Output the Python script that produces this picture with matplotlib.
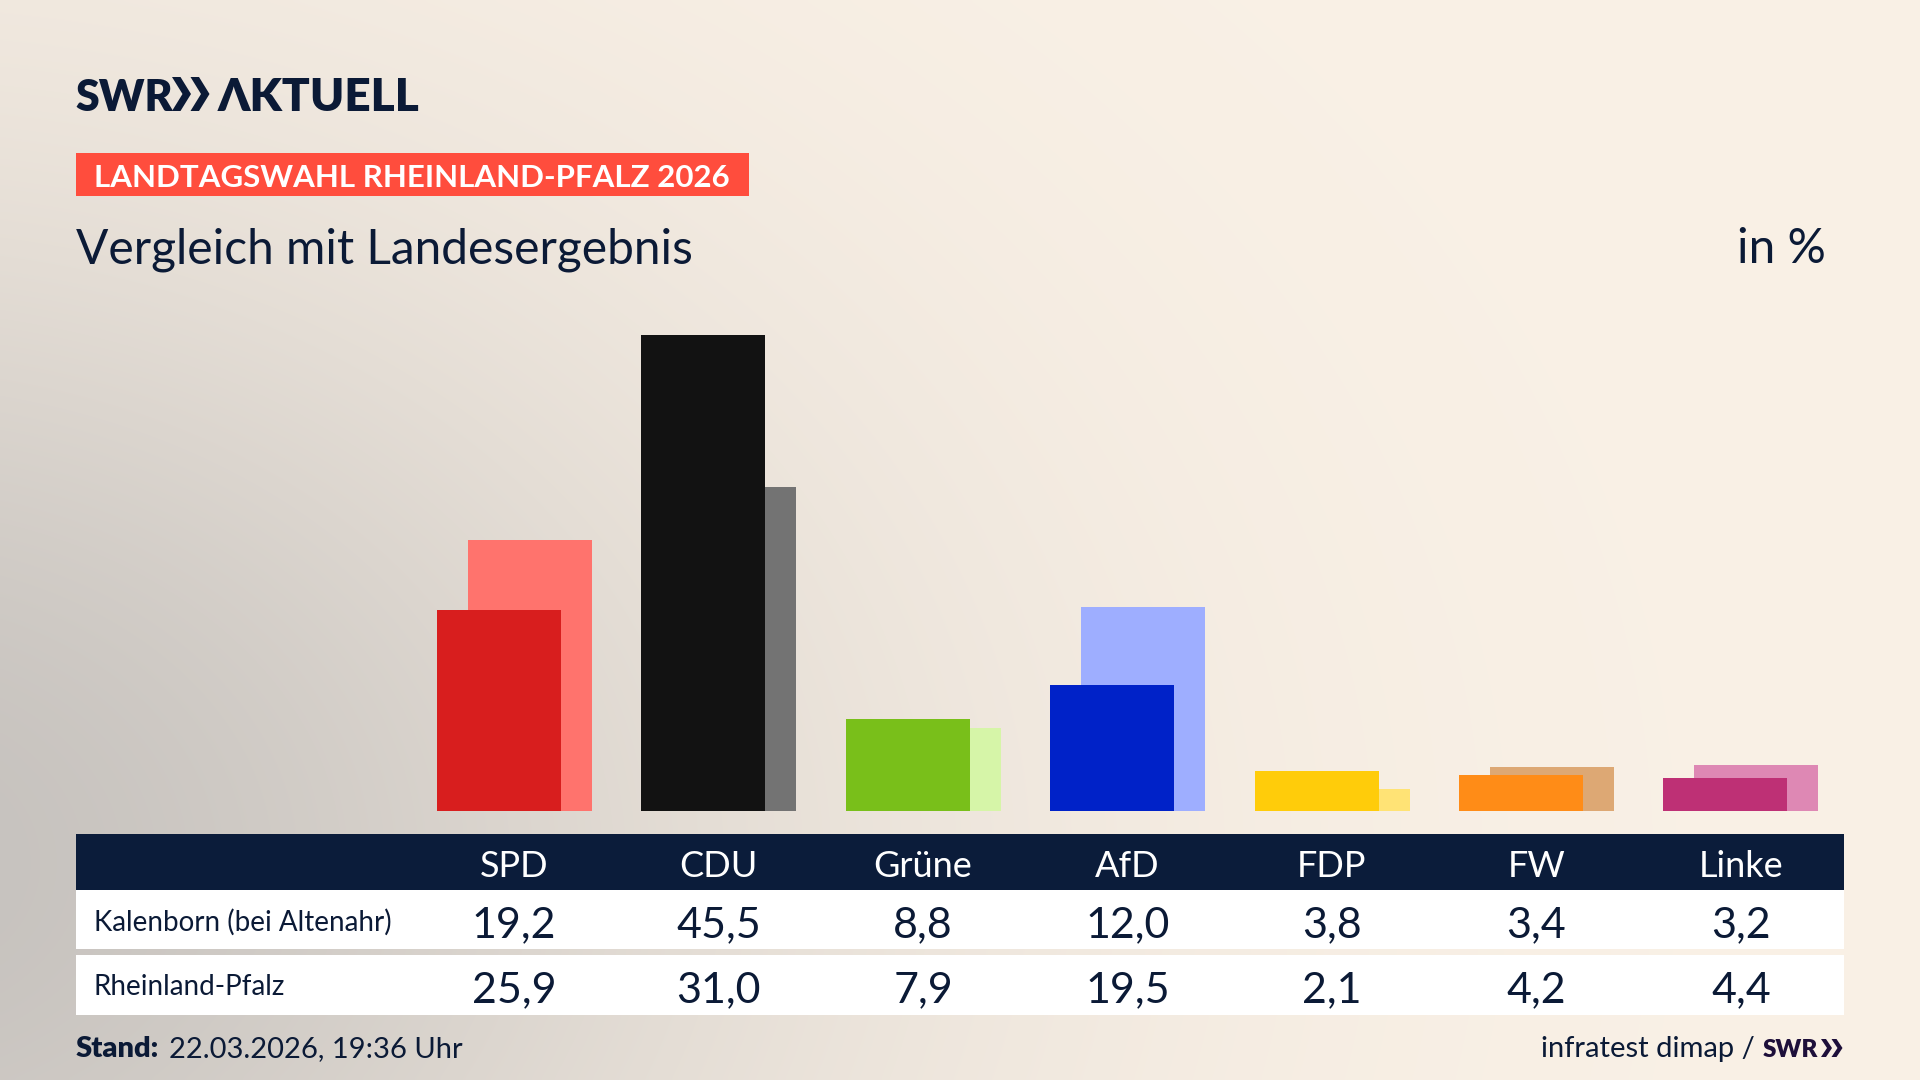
import numpy as np
import matplotlib
matplotlib.use('Agg')
import matplotlib.pyplot as plt
from matplotlib.patches import Rectangle, Polygon

plt.rcParams['font.family'] = ['Lato', 'DejaVu Sans']

parties = ['SPD', 'CDU', 'Grüne', 'AfD', 'FDP', 'FW', 'Linke']
kalenborn = [19.2, 45.5, 8.8, 12.0, 3.8, 3.4, 3.2]
landes = [25.9, 31.0, 7.9, 19.5, 2.1, 4.2, 4.4]
colors_front = ['#D81E1E', '#121212', '#79BF1A', '#0022C8', '#FFCC0A', '#FF8C17', '#BE3075']
colors_back = ['#FF736D', '#737373', '#D6F5A8', '#9EAEFF', '#FFE375', '#DDA874', '#DE88B4']
row_labels = ['Kalenborn (bei Altenahr)', 'Rheinland-Pfalz']

W, H = 1920, 1080
navy = '#0B1C3A'
txt = '#0B1A36'

def fx(x):
    return x / W

def fy(y):
    return 1 - y / H

fig = plt.figure(figsize=(19.2, 10.8), dpi=100)

# background in pixel coords (y down), grey spot on the left
bg = fig.add_axes([0, 0, 1, 1])
xx, yy = np.meshgrid(np.linspace(0, 1, 480), np.linspace(0, 1, 270))
d = np.exp(-(((xx + 0.08) / 0.48) ** 2 + ((yy - 0.80) / 0.62) ** 2))
cream = np.array([250, 241, 230]) / 255
grey = np.array([198, 194, 190]) / 255
img = cream[None, None, :] * (1 - d[..., None]) + grey[None, None, :] * d[..., None]
bg.imshow(img, extent=[0, W, H, 0], aspect='auto', interpolation='bicubic')
bg.set_xlim(0, W)
bg.set_ylim(H, 0)
bg.axis('off')

def chevrons(x0, ybase, h, t, w, gap, color):
    for k in range(2):
        xs = x0 + k * gap
        pts = [(xs, ybase - h), (xs + t, ybase - h), (xs + t + w, ybase - h / 2),
               (xs + t, ybase), (xs, ybase), (xs + w, ybase - h / 2)]
        bg.add_patch(Polygon(pts, closed=True, color=color, lw=0))

# boxes
bg.add_patch(Rectangle((76, 153), 749 - 76, 196 - 153, color='#FF4D3D', lw=0))
bg.add_patch(Rectangle((76, 834), 1844 - 76, 890 - 834, color=navy, lw=0))
bg.add_patch(Rectangle((76, 890), 1844 - 76, 949 - 890, color='white', lw=0))
bg.add_patch(Rectangle((76, 955), 1844 - 76, 1015 - 955, color='white', lw=0))

# bar axes: baseline at y=811 px, 10.46 px per percent
scale_x = 204.5
x_left, x_right = 76, 1844
c0 = 514
xmin = -(c0 - x_left) / scale_x
xmax = xmin + (x_right - x_left) / scale_x
ymax = 50
bottom_px = 811
top_px = bottom_px - ymax * 10.46
ax = fig.add_axes([fx(x_left), fy(bottom_px), fx(x_right - x_left), (bottom_px - top_px) / H])
ax.set_xlim(xmin, xmax)
ax.set_ylim(0, ymax)
ax.axis('off')

x = np.arange(len(parties))
bw = 124 / scale_x
off = 15.5 / scale_x
ax.bar(x + off, landes, width=bw, color=colors_back, zorder=1)
ax.bar(x - off, kalenborn, width=bw, color=colors_front, zorder=2)

# header logo
fig.text(fx(75), fy(111), 'SWR', fontsize=31, fontweight='heavy', color=txt, va='baseline')
chevrons(172, 111, 34, 8.5, 10.5, 18.5, txt)
fig.text(fx(218), fy(111), 'ΛKTUELL', fontsize=33, fontweight='heavy', color=txt, va='baseline')

fig.text(fx(94), fy(187), 'LANDTAGSWAHL RHEINLAND-PFALZ 2026', fontsize=22.5, fontweight='bold',
         color='white', va='baseline')

fig.text(fx(76), fy(263), 'Vergleich mit Landesergebnis', fontsize=34.5, color=txt, va='baseline')
fig.text(fx(1826), fy(263), 'in %', fontsize=34.5, color=txt, va='baseline', ha='right')

# table
for i, p in enumerate(parties):
    cx = c0 + i * scale_x
    fig.text(fx(cx), fy(877), p, fontsize=26, color='white', ha='center', va='baseline')
    fig.text(fx(cx), fy(937), f'{kalenborn[i]:.1f}'.replace('.', ','), fontsize=31, color=txt,
             ha='center', va='baseline')
    fig.text(fx(cx), fy(1002), f'{landes[i]:.1f}'.replace('.', ','), fontsize=31, color=txt,
             ha='center', va='baseline')

fig.text(fx(94), fy(931), row_labels[0], fontsize=20, color=txt, va='baseline')
fig.text(fx(94), fy(995), row_labels[1], fontsize=20, color=txt, va='baseline')

# footer
fig.text(fx(76), fy(1057), 'Stand:', fontsize=21, fontweight='heavy', color=txt, va='baseline')
fig.text(fx(169), fy(1057), '22.03.2026, 19:36 Uhr', fontsize=21, color=txt, va='baseline')
fig.text(fx(1755), fy(1057), 'infratest dimap /', fontsize=21, color=txt, va='baseline', ha='right')
fig.text(fx(1818), fy(1057), 'SWR', fontsize=17.5, fontweight='heavy', color='#1E0F3A', va='baseline', ha='right')
chevrons(1821, 1057, 18, 5, 6, 10.5, '#1E0F3A')

fig.savefig('out.png', dpi=100)
